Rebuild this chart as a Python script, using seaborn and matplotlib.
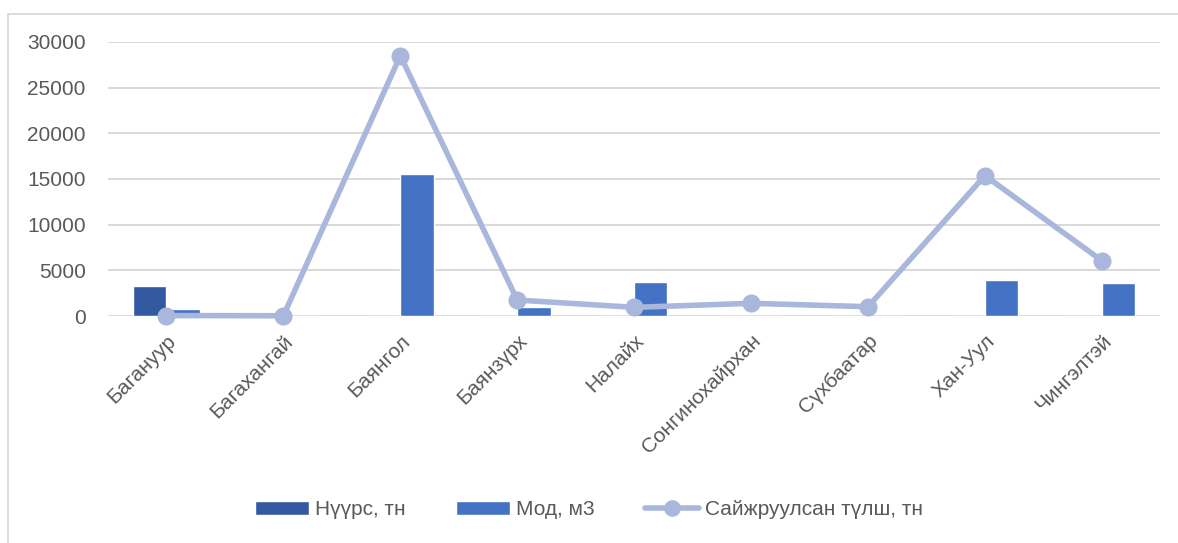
import pandas as pd
import matplotlib.pyplot as plt
import seaborn as sns
from matplotlib.lines import Line2D
from matplotlib.patches import Patch

# values
districts = ['Багануур', 'Багахангай', 'Баянгол', 'Баянзүрх', 'Налайх',
             'Сонгинохайрхан', 'Сүхбаатар', 'Хан-Уул', 'Чингэлтэй']
coal = [3250, 0, 0, 0, 0, 0, 0, 0, 0]
wood = [770, 50, 15600, 1020, 3720, 0, 50, 3980, 3580]
improved_fuel = [50, 30, 28500, 1750, 950, 1390, 1020, 15370, 6060]

coal_label = 'Нүүрс, тн'
wood_label = 'Мод, м3'
fuel_label = 'Сайжруулсан түлш, тн'

c_coal = '#335AA1'
c_wood = '#4472C4'
c_line = '#A9B7DC'
grey = '#595959'

bars = pd.DataFrame({
    'district': districts * 2,
    'value': coal + wood,
    'kind': [coal_label] * len(districts) + [wood_label] * len(districts),
})

sns.set_style('white')
plt.rcParams['font.family'] = ['Liberation Sans', 'DejaVu Sans']

fig = plt.figure(figsize=(11.78, 5.43), dpi=100)
ax = fig.add_axes([0.0917, 0.418, 0.985 - 0.0917, 0.9227 - 0.418])

sns.barplot(data=bars, x='district', y='value', hue='kind', order=districts,
            palette=[c_coal, c_wood], width=0.57, saturation=1, ax=ax,
            legend=False, zorder=2)
sns.pointplot(x=districts, y=improved_fuel, order=districts, color=c_line,
              markers='o', markersize=10, linewidth=4, ax=ax, zorder=3)
for ln in ax.lines:
    ln.set_clip_on(False)

ax.set_ylim(0, 30000)
ax.set_xlim(-0.5, len(districts) - 0.5)
ax.set_yticks(range(0, 30001, 5000))
ax.yaxis.grid(True, color='#D9D9D9', linewidth=1.4, zorder=0)
ax.set_axisbelow(True)
for s in ax.spines.values():
    s.set_visible(False)
ax.tick_params(axis='both', length=0, colors=grey, labelsize=15)
ax.tick_params(axis='y', pad=16)
ax.tick_params(axis='x', pad=11)
ax.set_xlabel('')
ax.set_ylabel('')
plt.setp(ax.get_xticklabels(), rotation=45, ha='right', rotation_mode='anchor')

handles = [
    Patch(facecolor=c_coal, label=coal_label),
    Patch(facecolor=c_wood, label=wood_label),
    Line2D([], [], color=c_line, lw=4, marker='o', markersize=11, label=fuel_label),
]
fig.legend(handles=handles, loc='center', bbox_to_anchor=(0.5, 0.061), ncol=3,
           frameon=False, fontsize=15, labelcolor=grey, handlelength=2.6,
           handleheight=0.6, columnspacing=2.4, handletextpad=0.3)

# chart-area border (top and left edges visible)
fig.add_artist(Line2D([0.0065, 1.0], [1 - 13.5 / 543] * 2, color='#D9D9D9', lw=1.3))
fig.add_artist(Line2D([0.0065, 0.0065], [0, 1 - 13.5 / 543], color='#D9D9D9', lw=1.3))

fig.savefig('out.png', dpi=100, facecolor='white')
